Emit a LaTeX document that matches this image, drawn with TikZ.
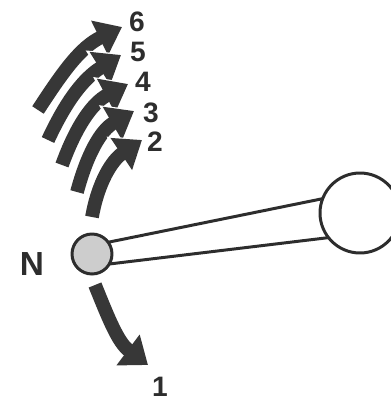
\documentclass[tikz,border=0pt]{standalone}
\usepackage{fontspec}
\setmainfont{Liberation Sans}
\usepackage{tikz}
\usetikzlibrary{arrows.meta}
\definecolor{arrowgrey}{RGB}{55,55,55}
\definecolor{nucgrey}{RGB}{205,205,205}
\definecolor{rimgrey}{RGB}{45,45,45}
\begin{document}
\begin{tikzpicture}[x=0.02cm,y=0.02cm,
  bigarrow/.style={draw=arrowgrey,line width=7.8pt,
    -{Triangle[width=0.74cm,length=0.5cm]}},
  halo/.style={draw=white,line width=10.5pt,
    -{Triangle[width=0.86cm,length=0.6cm,sep=-0.05cm]}},
  rod/.style={draw=rimgrey,line width=1.7pt},
  atom/.style={circle,draw=rimgrey,line width=1.7pt,inner sep=0pt,outer sep=0pt},
  lbl/.style={font=\bfseries\fontsize{16}{16}\selectfont,text=rimgrey,inner sep=0pt}]
\useasboundingbox (0,0) rectangle (391,-400);
% ---------- the two atoms and their bond ----------
\node[atom,fill=nucgrey,minimum size=0.8cm] (nuc) at (92,-254) {};
\node[atom,fill=white,minimum size=1.6cm] (ball) at (360,-213) {};
\draw[rod] (nuc.36) -- (ball.159);
\draw[rod] (nuc.-30) -- (ball.218);
\node[lbl,font=\bfseries\fontsize{19}{19}\selectfont] (nlbl) at (32,-264) {N};
% ---------- the downward arrow ----------
\coordinate (t1) at (95,-285);
\coordinate (h1) at (148,-365);
\draw[bigarrow] (t1) to[out=-68,in=143] (h1);
\node[lbl] (l1) at (160,-387) {1};
% ---------- the fan of upward arrows (6 first, 2 on top) ----------
\foreach \n/\tx/\ty/\hx/\hy/\o/\i/\lx/\ly in {
    6/38/110/122/27/57/206/137/22,
    5/48/140/121/55/65/212/138/52,
    4/62/165/128/84/70/208/143/82,
    3/77/192/134/111/75/210/151/113,
    2/92/217/142/140/80/214/155/142}{
  \coordinate (t\n) at (\tx,-\ty);
  \coordinate (h\n) at (\hx,-\hy);
  \draw[halo] (t\n) to[out=\o,in=\i] (h\n);
  \draw[bigarrow] (t\n) to[out=\o,in=\i] (h\n);
  \node[lbl] (l\n) at (\lx,-\ly) {\n};
}
\end{tikzpicture}
\end{document}
